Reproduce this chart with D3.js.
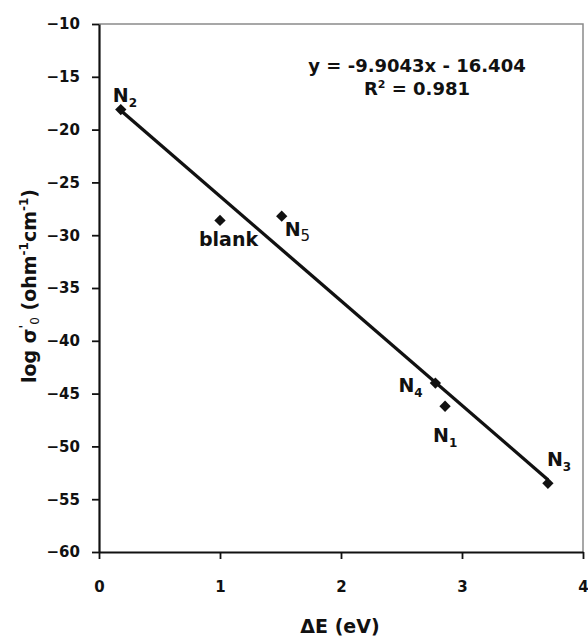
<!DOCTYPE html>
<html>
<head>
<meta charset="utf-8">
<script src="https://cdn.jsdelivr.net/npm/d3@7"></script>
<style>
  html, body { margin: 0; padding: 0; background: #fff; }
  svg { display: block; }
  text { font-family: "DejaVu Sans", sans-serif; font-weight: bold; fill: #111; }
</style>
</head>
<body>
<svg id="chart" width="588" height="638"></svg>
<script>
// ---- data ----
const deltaE   = [0.18, 1.00, 1.51, 2.78, 2.86, 3.71];
const logSigma = [-18.1, -28.6, -28.2, -44.0, -46.2, -53.5];
const pointNames = ["N", "blank", "N", "N", "N", "N"];
const pointSubs  = ["2", "", "5", "4", "1", "3"];
const xTicks = [0, 1, 2, 3, 4];
const yTicks = [-10, -15, -20, -25, -30, -35, -40, -45, -50, -55, -60];
const slope = -9.9043, intercept = -16.404, r2 = 0.981;
const xDomain = [0, 4], yDomain = [-60, -10];

// ---- layout ----
const W = 588, H = 638;
const m = { left: 99, right: 5, top: 24, bottom: 86 };
const labelOffsets = [[-8, -8], [-21, 26], [3, 20], [-37, 9], [-12, 36], [-1, -17]];

const svg = d3.select("#chart");
const x = d3.scaleLinear().domain(xDomain).range([m.left, W - m.right]);
const y = d3.scaleLinear().domain(yDomain).range([H - m.bottom, m.top]);

// plot frame (top/right in gray)
svg.append("path")
  .attr("d", `M${x(0)},${y(-10)}H${x(4)}V${y(-60)}`)
  .attr("fill", "none").attr("stroke", "#8a8a8a").attr("stroke-width", 1.5);

// axes
const xAxis = svg.append("g").attr("transform", `translate(0,${y(-60)})`)
  .call(d3.axisBottom(x).tickValues(xTicks).tickSize(7).tickPadding(22).tickSizeOuter(0).tickFormat(d3.format("d")));
const yAxis = svg.append("g").attr("transform", `translate(${x(0)},0)`)
  .call(d3.axisLeft(y).tickValues(yTicks).tickSize(7).tickPadding(12).tickSizeOuter(0).tickFormat(d3.format("d")));
[xAxis, yAxis].forEach(g => {
  g.attr("font-family", null).attr("font-size", null);
  g.select(".domain").attr("stroke", "#111").attr("stroke-width", 2.2);
  g.selectAll(".tick line").attr("stroke", "#111").attr("stroke-width", 1.8);
  g.selectAll(".tick text")
    .style("font-size", "15px").style("font-family", "'DejaVu Sans', sans-serif")
    .style("font-weight", "bold").style("fill", "#111");
});

// trendline
const xMin = d3.min(deltaE), xMax = d3.max(deltaE);
svg.append("line")
  .attr("x1", x(xMin)).attr("y1", y(slope * xMin + intercept))
  .attr("x2", x(xMax)).attr("y2", y(slope * xMax + intercept))
  .attr("stroke", "#111").attr("stroke-width", 3.3);

// markers
const pts = deltaE.map((d, i) => ({ x: d, y: logSigma[i], name: pointNames[i], sub: pointSubs[i], off: labelOffsets[i] }));
svg.append("g").selectAll("path").data(pts).join("path")
  .attr("d", d3.symbol(d3.symbolSquare, 64))
  .attr("transform", d => `translate(${x(d.x)},${y(d.y)}) rotate(45)`)
  .attr("fill", "#111");

// point labels
const lab = svg.append("g").selectAll("text").data(pts).join("text")
  .attr("x", d => x(d.x) + d.off[0])
  .attr("y", d => y(d.y) + d.off[1])
  .style("font-size", "19px");
lab.append("tspan").text(d => d.name);
lab.filter(d => d.sub).append("tspan")
  .attr("dy", 5)
  .style("font-size", d => d.sub === "5" ? "15px" : "12px")
  .style("font-weight", d => d.sub === "5" ? "normal" : "bold")
  .text(d => d.sub);

// equation
const eq = svg.append("g").attr("transform", "translate(417,0)");
eq.append("text").attr("y", 72).attr("text-anchor", "middle").style("font-size", "18px")
  .text(`y = ${slope}x - ${Math.abs(intercept)}`);
const r = eq.append("text").attr("y", 95).attr("text-anchor", "middle").style("font-size", "18px");
r.append("tspan").text("R");
r.append("tspan").attr("dy", -7).style("font-size", "11px").text("2");
r.append("tspan").attr("dy", 7).text(` = ${r2}`);

// x axis title
svg.append("text").attr("x", 340).attr("y", 633).attr("text-anchor", "middle")
  .style("font-size", "19px")
  .text("ΔE (eV)");

// y axis title
const yt = svg.append("text").attr("transform", "translate(36,286) rotate(-90)")
  .attr("text-anchor", "middle").style("font-size", "19px");
yt.append("tspan").text("log σ");
yt.append("tspan").attr("dy", -8).style("font-size", "12px").text("'");
yt.append("tspan").attr("dy", 11).style("font-size", "12px").style("font-weight", "normal").text("0");
yt.append("tspan").attr("dy", -3).text("  (ohm");
yt.append("tspan").attr("dy", -8).style("font-size", "12px").text("-1");
yt.append("tspan").attr("dy", 8).text("cm");
yt.append("tspan").attr("dy", -8).style("font-size", "12px").text("-1");
yt.append("tspan").attr("dy", 8).text(")");
</script>
</body>
</html>
